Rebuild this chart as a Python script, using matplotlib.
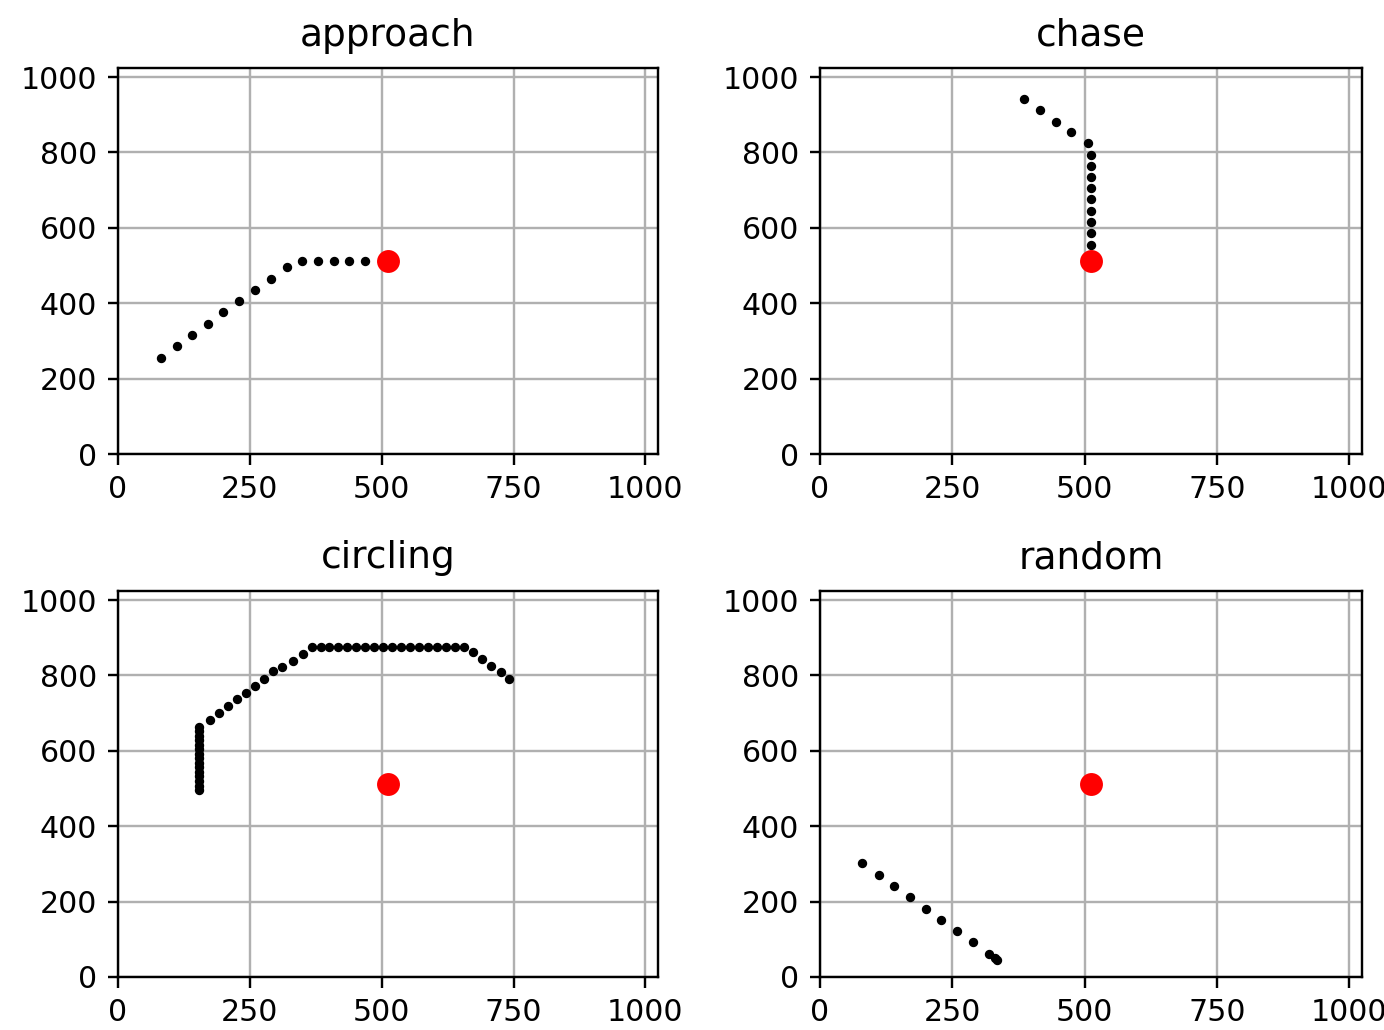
import matplotlib
matplotlib.use("Agg")
import matplotlib.pyplot as plt

titles = ["approach", "chase", "circling", "random"]
target = (512, 512)

approach_x = [81, 111, 141, 170, 200, 230, 260, 290, 320, 349, 379, 409, 438, 468]
approach_y = [256, 286, 316, 345, 376, 407, 435, 464, 495, 512, 512, 512, 512, 512]

chase_x = [385, 416, 446, 475, 506, 512, 512, 512, 512, 512, 512, 512, 512, 512]
chase_y = [943, 912, 882, 853, 825, 793, 764, 734, 705, 676, 645, 615, 585, 555]

circ_x = [154, 154, 154, 154, 154, 154, 154, 154, 154, 154, 154, 154, 154, 154, 154,
          174, 192, 209, 226, 243, 260, 277, 294, 311, 332, 350,
          367, 384, 401, 418, 435, 452, 469, 486, 503, 520, 537, 554, 571, 588, 605, 622, 639, 657,
          673, 690, 707, 727, 742]
circ_y = [496, 508, 520, 532, 544, 556, 568, 580, 592, 604, 616, 628, 640, 652, 664,
          683, 701, 719, 737, 754, 772, 790, 811, 822, 838, 856,
          875, 875, 875, 875, 875, 875, 875, 875, 875, 875, 875, 875, 875, 875, 875, 875, 875, 875,
          861, 843, 826, 809, 790]

rand_x = [80, 111, 140, 170, 200, 229, 258, 289, 319, 330, 334]
rand_y = [302, 271, 241, 211, 181, 151, 122, 92, 62, 50, 46]

paths = [(approach_x, approach_y), (chase_x, chase_y), (circ_x, circ_y), (rand_x, rand_y)]

W, H = 1384, 1030
dpi = 216
fig = plt.figure(figsize=(W / dpi, H / dpi), dpi=dpi)

lefts = [118, 820]
rights = [658, 1362]
tops = [68, 591]
bottoms = [454, 977]

for i, (title, (px, py)) in enumerate(zip(titles, paths)):
    r, c = divmod(i, 2)
    ax = fig.add_axes([lefts[c] / W, 1 - bottoms[r] / H,
                       (rights[c] - lefts[c]) / W, (bottoms[r] - tops[r]) / H])
    ax.grid(True, color="#b0b0b0", linewidth=0.8)
    ax.set_axisbelow(True)
    ax.scatter(px, py, s=4.5, color="black", zorder=3)
    ax.scatter([target[0]], [target[1]], s=44, color="red", zorder=4)
    ax.set_xlim(0, 1024)
    ax.set_ylim(0, 1024)
    ax.set_xticks([0, 250, 500, 750, 1000])
    ax.set_yticks([0, 200, 400, 600, 800, 1000])
    ax.tick_params(labelsize=10)
    ax.set_title(title, fontsize=12.5, pad=7.5)

fig.savefig("out.png", dpi=dpi)
